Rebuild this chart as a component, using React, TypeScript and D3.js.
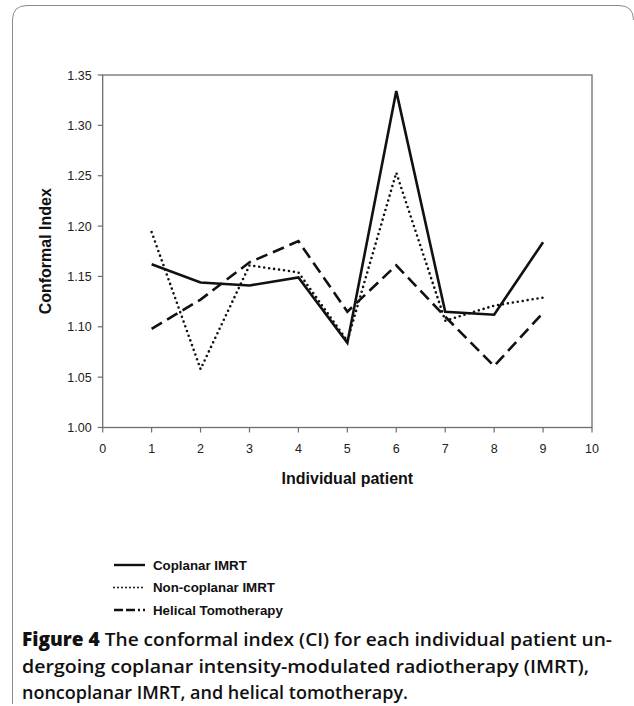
import React from "react";
import * as d3 from "d3";

const patients = [1, 2, 3, 4, 5, 6, 7, 8, 9];
const coplanar = [1.162, 1.144, 1.141, 1.149, 1.084, 1.334, 1.115, 1.112, 1.184];
const nonCoplanar = [1.194, 1.058, 1.161, 1.154, 1.086, 1.253, 1.106, 1.121, 1.129];
const helical = [1.098, 1.127, 1.164, 1.185, 1.115, 1.161, 1.11, 1.061, 1.114];
const xTicks = [0, 1, 2, 3, 4, 5, 6, 7, 8, 9, 10];
const yTicks = [1.0, 1.05, 1.1, 1.15, 1.2, 1.25, 1.3, 1.35];
const seriesNames = ["Coplanar IMRT", "Non-coplanar IMRT", "Helical Tomotherapy"];
const captionBold = "Figure 4";
const captionLines = [
  " The conformal index (CI) for each individual patient un-",
  "dergoing coplanar intensity-modulated radiotherapy (IMRT),",
  "noncoplanar IMRT, and helical tomotherapy.",
];

const W = 634;
const H = 706;
const plot = { left: 102.7, right: 592, top: 75, bottom: 427.5 };

const dashes = [null, "0 5", "12 6"];

export default function App() {
  const x = d3.scaleLinear().domain([0, 10]).range([plot.left, plot.right]);
  const y = d3.scaleLinear().domain([1.0, 1.35]).range([plot.bottom, plot.top]);
  const line = d3
    .line<number>()
    .x((_, i) => x(patients[i]))
    .y((d) => y(d));
  const series = [coplanar, nonCoplanar, helical];
  const axisColor = "#6e6e6e";
  const font = "'Liberation Sans', Arial, sans-serif";

  return (
    <svg
      width={W}
      height={H}
      style={{ position: "absolute", left: 0, top: 0, background: "#fff" }}
    >
      <rect x={0} y={0} width={W} height={H} fill="#fff" />
      <path
        d="M12.5,704 L12.5,20 Q12.5,5.5 27,5.5 L619,5.5 Q633.5,5.5 633.5,20"
        fill="none"
        stroke="#8a8a8a"
        strokeWidth={1}
      />
      {/* plot frame */}
      <rect
        x={plot.left}
        y={plot.top}
        width={plot.right - plot.left}
        height={plot.bottom - plot.top}
        fill="none"
        stroke={axisColor}
        strokeWidth={1.3}
      />
      {/* y ticks */}
      {yTicks.map((t) => (
        <g key={"y" + t}>
          <line
            x1={plot.left - 5}
            x2={plot.left}
            y1={y(t)}
            y2={y(t)}
            stroke={axisColor}
            strokeWidth={1.2}
          />
          <text
            x={plot.left - 11}
            y={y(t) + 4.5}
            textAnchor="end"
            fontFamily={font}
            fontSize={12.5}
            fill="#222"
          >
            {t.toFixed(2)}
          </text>
        </g>
      ))}
      {/* x ticks */}
      {xTicks.map((t) => (
        <g key={"x" + t}>
          <line
            x1={x(t)}
            x2={x(t)}
            y1={plot.bottom}
            y2={plot.bottom + 5}
            stroke={axisColor}
            strokeWidth={1.2}
          />
          <text
            x={x(t)}
            y={plot.bottom + 25.5}
            textAnchor="middle"
            fontFamily={font}
            fontSize={12.5}
            fill="#222"
          >
            {t}
          </text>
        </g>
      ))}
      <text
        x={(plot.left + plot.right) / 2}
        y={484}
        textAnchor="middle"
        fontFamily={font}
        fontSize={16}
        fontWeight="bold"
        fill="#111"
      >
        Individual patient
      </text>
      <text
        transform={`translate(51,${(plot.top + plot.bottom) / 2}) rotate(-90)`}
        textAnchor="middle"
        fontFamily={font}
        fontSize={16}
        fontWeight="bold"
        fill="#111"
      >
        Conformal Index
      </text>
      {/* series */}
      {series.map((s, i) => (
        <path
          key={"s" + i}
          d={line(s) || ""}
          fill="none"
          stroke="#111"
          strokeWidth={2.6}
          strokeDasharray={dashes[i] || undefined}
          strokeLinecap={i === 1 ? "round" : "butt"}
          strokeLinejoin="miter"
        />
      ))}
      {/* legend */}
      {seriesNames.map((n, i) => {
        const ly = 565 + i * 22.5;
        return (
          <g key={"l" + i}>
            <line
              x1={114}
              x2={145}
              y1={ly}
              y2={ly}
              stroke="#111"
              strokeWidth={i === 1 ? 2 : 2.4}
              strokeDasharray={i === 1 ? "0 4" : i === 2 ? "9 3 9 3 2 3" : undefined}
              strokeLinecap={i === 1 ? "round" : "butt"}
            />
            <text
              x={153}
              y={ly + 4.8}
              fontFamily={font}
              fontSize={13.3}
              fontWeight="bold"
              fill="#111"
            >
              {n}
            </text>
          </g>
        );
      })}
      {/* caption */}
      {captionLines.map((c, i) => (
        <text
          key={"c" + i}
          x={22}
          y={646 + i * 26.5}
          fontFamily="'Open Sans', 'Noto Sans', sans-serif"
          fontSize={18.5}
          fontWeight={600}
          fill="#111"
          textLength={[590, 567, 386][i]}
          lengthAdjust="spacingAndGlyphs"
        >
          {i === 0 ? <tspan fontWeight={800}>{captionBold}</tspan> : null}
          {c}
        </text>
      ))}
    </svg>
  );
}
